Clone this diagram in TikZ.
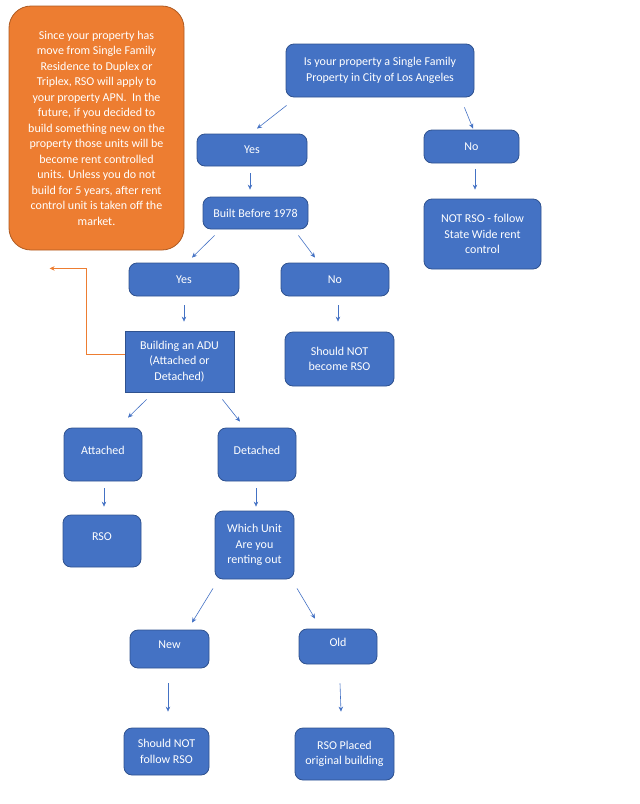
\documentclass[tikz,border=0pt]{standalone}
\usepackage{fontspec}
\setmainfont{Carlito}
\usetikzlibrary{arrows.meta,positioning}

\definecolor{boxblue}{HTML}{4472C4}
\definecolor{boxline}{HTML}{2F528F}
\definecolor{noteorange}{HTML}{ED7D31}
\definecolor{noteline}{HTML}{AE5A21}

\tikzset{
  box/.style={shape=rectangle, rounded corners=8pt, draw=boxline, fill=boxblue,
    text=white, align=center, inner sep=2pt, line width=0.8pt,
    font=\fontsize{12}{15.5}\selectfont},
  sqbox/.style={box, rounded corners=0pt},
  upper/.style={text depth=8pt},
  note/.style={box, rounded corners=22pt, draw=noteline, fill=noteorange},
  arr/.style={-{Stealth[length=5pt,width=4.5pt]}, draw=boxblue, line width=0.6pt},
  backarr/.style={arr, draw=noteorange}
}

\begin{document}
\begin{tikzpicture}[x=1pt, y=1pt]
   \useasboundingbox (0,0) rectangle (640,-804);

   \node[note, minimum width=175pt, minimum height=244pt] (0) at (96.5,-128) {Since your property has\\ move from Single Family\\ Residence to Duplex or\\ Triplex, RSO will apply to\\ your property APN.\ \ In the\\ future, if you decided to\\ build something new on the\\ property those units will be\\ become rent controlled\\ units. Unless you do not\\ build for 5 years, after rent\\ control unit is taken off the\\ market.};

   \node[box, minimum width=188pt, minimum height=53pt] (1) at (380,-70.5) {Is your property a Single Family\\ Property in City of Los Angeles};
   \node[box, minimum width=110pt, minimum height=32pt] (2) at (252,-150) {Yes};
   \node[box, minimum width=95pt, minimum height=33pt] (3) at (471.5,-146.5) {No};
   \node[box, minimum width=117pt, minimum height=70pt] (4) at (482.5,-234) {NOT RSO - follow\\ State Wide rent\\ control};
   \node[box, minimum width=105pt, minimum height=32pt] (5) at (255.5,-213) {Built Before 1978};
   \node[box, minimum width=110pt, minimum height=33pt] (6) at (184,-279.5) {Yes};
   \node[box, minimum width=108pt, minimum height=33pt] (7) at (335,-279.5) {No};
   \node[sqbox, minimum width=109pt, minimum height=61pt] (8) at (179.5,-361.5) {Building an ADU\\ (Attached or\\ Detached)};
   \node[box, minimum width=109pt, minimum height=54pt] (9) at (339.5,-359) {Should NOT\\ become RSO};
   \node[box, upper, minimum width=78pt, minimum height=53pt] (10) at (103,-454.5) {Attached};
   \node[box, upper, minimum width=78pt, minimum height=53pt] (11) at (257,-454.5) {Detached};
   \node[box, upper, minimum width=78pt, minimum height=52pt] (12) at (102,-541) {RSO};
   \node[box, minimum width=79pt, minimum height=68pt] (13) at (254.5,-545) {Which Unit\\ Are you\\ renting out};
   \node[box, upper, minimum width=79pt, minimum height=38pt] (14) at (169.5,-649) {New};
   \node[box, upper, minimum width=78pt, minimum height=35pt] (15) at (338,-646.5) {Old};
   \node[box, minimum width=85pt, minimum height=47pt] (16) at (166.5,-751.5) {Should NOT\\ follow RSO};
   \node[box, minimum width=99pt, minimum height=52pt] (17) at (344.5,-754) {RSO Placed\\ original building};

    \draw[arr] ([shift={(1,-8)}]1.south west) -- ([shift={(5,5)}]2.north);
    \draw[arr] ([shift={(-10,-10)}]1.south east) -- ([shift={(1.5,1)}]3.north);
    \draw[arr] ([shift={(-2,-7)}]2.south) -- ([shift={(-5.5,7)}]5.north);
    \draw[arr] ([shift={(3.5,-6)}]3.south) -- ([shift={(-7.5,9)}]4.north);
    \draw[arr] ([shift={(12,-6)}]5.south west) -- ([shift={(8,5)}]6.north);
    \draw[arr] ([shift={(-10,-6)}]5.south east) -- ([shift={(-20,5)}]7.north);
    \draw[arr] ([shift={(0,-9)}]6.south) -- ([shift={(4.5,9)}]8.north);
    \draw[arr] ([shift={(3,-9)}]7.south) -- ([shift={(-1.5,10)}]9.north);
    \draw[backarr] ([yshift=7.5]8.west) -- ++(-38,0) |- ([shift={(41,-18)}]0.south west);
    \draw[arr] ([shift={(22,-7)}]8.south west) -- ([shift={(25,10)}]10.north);
    \draw[arr] ([shift={(-12,-7)}]8.south east) -- ([shift={(-17,6)}]11.north);
    \draw[arr] ([shift={(1,-7)}]10.south) -- ([shift={(2,8)}]12.north);
    \draw[arr] ([shift={(-1,-7)}]11.south) -- ([shift={(1.5,4)}]13.north);
    \draw[arr] ([shift={(-41.5,-9)}]13.south) -- ([shift={(22.5,7)}]14.north);
    \draw[arr] ([shift={(42.5,-9)}]13.south) -- ([shift={(-23,10)}]15.north);
    \draw[arr] ([shift={(-1.5,-15)}]14.south) -- ([shift={(1.5,16)}]16.north);
    \draw[arr] ([shift={(2,-19)}]15.south) -- ([shift={(-3.5,16)}]17.north);

\end{tikzpicture}
\end{document}
